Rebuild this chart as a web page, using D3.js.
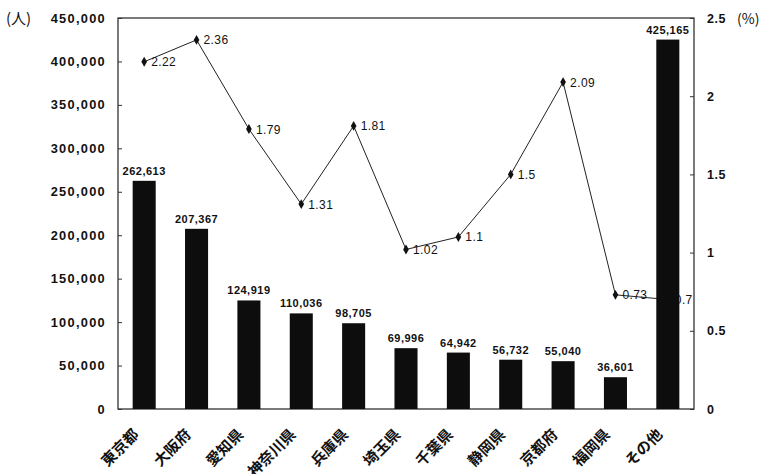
<!DOCTYPE html>
<html>
<head>
<meta charset="utf-8">
<script src="https://cdn.jsdelivr.net/npm/d3@7"></script>
<style>
  html, body { margin: 0; padding: 0; background: #fff; }
  svg { display: block; }
  text { fill: #111; }
</style>
</head>
<body>
<svg id="chart" width="770" height="474"></svg>
<script>
// 都道府県別の人数（棒）と割合（折れ線）
const categories = ["東京都", "大阪府", "愛知県", "神奈川県", "兵庫県", "埼玉県", "千葉県", "静岡県", "京都府", "福岡県", "その他"];
const counts = [262613, 207367, 124919, 110036, 98705, 69996, 64942, 56732, 55040, 36601, 425165];
const percents = [2.22, 2.36, 1.79, 1.31, 1.81, 1.02, 1.1, 1.5, 2.09, 0.73, 0.7];
const leftTicks = [0, 50000, 100000, 150000, 200000, 250000, 300000, 350000, 400000, 450000];
const rightTicks = [0, 0.5, 1, 1.5, 2, 2.5];

const svg = d3.select("#chart");
const plot = { left: 118, right: 694, top: 18, bottom: 409 };
const font = "'Liberation Sans', Arial, sans-serif";
const cjk = "'Noto Sans CJK JP', 'Noto Sans CJK SC', sans-serif";

const x = d3.scaleBand().domain(categories).range([plot.left, plot.right]).paddingInner(0.56).paddingOuter(0.28);
const yL = d3.scaleLinear().domain([0, 450000]).range([plot.bottom, plot.top]);
const yR = d3.scaleLinear().domain([0, 2.5]).range([plot.bottom, plot.top]);
const cx = c => x(c) + x.bandwidth() / 2;
const fmt = d3.format(",");

// 枠
svg.append("rect")
  .attr("x", plot.left).attr("y", plot.top)
  .attr("width", plot.right - plot.left).attr("height", plot.bottom - plot.top)
  .attr("fill", "none").attr("stroke", "#222").attr("stroke-width", 1.2);

// 左軸（人）
const left = svg.append("g").attr("transform", `translate(${plot.left},0)`)
  .call(d3.axisLeft(yL).tickValues(leftTicks).tickSize(-4).tickPadding(12).tickFormat(fmt));
left.select(".domain").remove();
left.selectAll("line").attr("stroke", "#333");
left.selectAll("text").attr("font-family", font).attr("font-size", 12.8).attr("font-weight", "bold")
  .attr("letter-spacing", 1.3).attr("fill", "#111");

// 右軸（%）
const right = svg.append("g").attr("transform", `translate(${plot.right},0)`)
  .call(d3.axisRight(yR).tickValues(rightTicks).tickSize(-4).tickPadding(13).tickFormat(d => d));
right.select(".domain").remove();
right.selectAll("line").attr("stroke", "#333");
right.selectAll("text").attr("font-family", font).attr("font-size", 12.5).attr("font-weight", "bold")
  .attr("letter-spacing", 0.6).attr("fill", "#111");

// 単位
svg.append("text").attr("x", 6).attr("y", 24).attr("font-family", cjk).attr("font-size", 15).text("(人)");
svg.append("text").attr("x", 737).attr("y", 24).attr("font-family", cjk).attr("font-size", 14).text("(%)");

// 割合の折れ線
const line = d3.line().x((d, i) => cx(categories[i])).y(d => yR(d));
svg.append("path").datum(percents).attr("d", line)
  .attr("fill", "none").attr("stroke", "#222").attr("stroke-width", 1);

svg.append("g").selectAll("path").data(percents).join("path")
  .attr("transform", (d, i) => `translate(${cx(categories[i])},${yR(d)})`)
  .attr("d", d3.symbol(d3.symbolDiamond, 28))
  .attr("fill", "#111");

svg.append("g").selectAll("text").data(percents).join("text")
  .attr("x", (d, i) => cx(categories[i]) + 7)
  .attr("y", d => yR(d) + 4.5)
  .attr("font-family", font).attr("font-size", 12).attr("letter-spacing", 0.4)
  .text(d => d);

// 人数の棒
svg.append("g").selectAll("rect").data(counts).join("rect")
  .attr("x", (d, i) => x(categories[i]))
  .attr("y", d => yL(d))
  .attr("width", x.bandwidth())
  .attr("height", d => yL(0) - yL(d))
  .attr("fill", "#0d0d0d");

svg.append("g").selectAll("text").data(counts).join("text")
  .attr("x", (d, i) => cx(categories[i]))
  .attr("y", d => yL(d) - 6)
  .attr("text-anchor", "middle")
  .attr("font-family", font).attr("font-size", 11).attr("font-weight", "bold").attr("letter-spacing", 0.5)
  .text(d => fmt(d));

// カテゴリ名（斜め）
svg.append("g").selectAll("text").data(categories).join("text")
  .attr("transform", c => `translate(${cx(c) - 12},${plot.bottom + 19}) rotate(-45)`)
  .attr("text-anchor", "end")
  .attr("dy", "0.7em")
  .attr("font-family", cjk).attr("font-size", 15).attr("font-weight", "bold")
  .text(c => c);
</script>
</body>
</html>
